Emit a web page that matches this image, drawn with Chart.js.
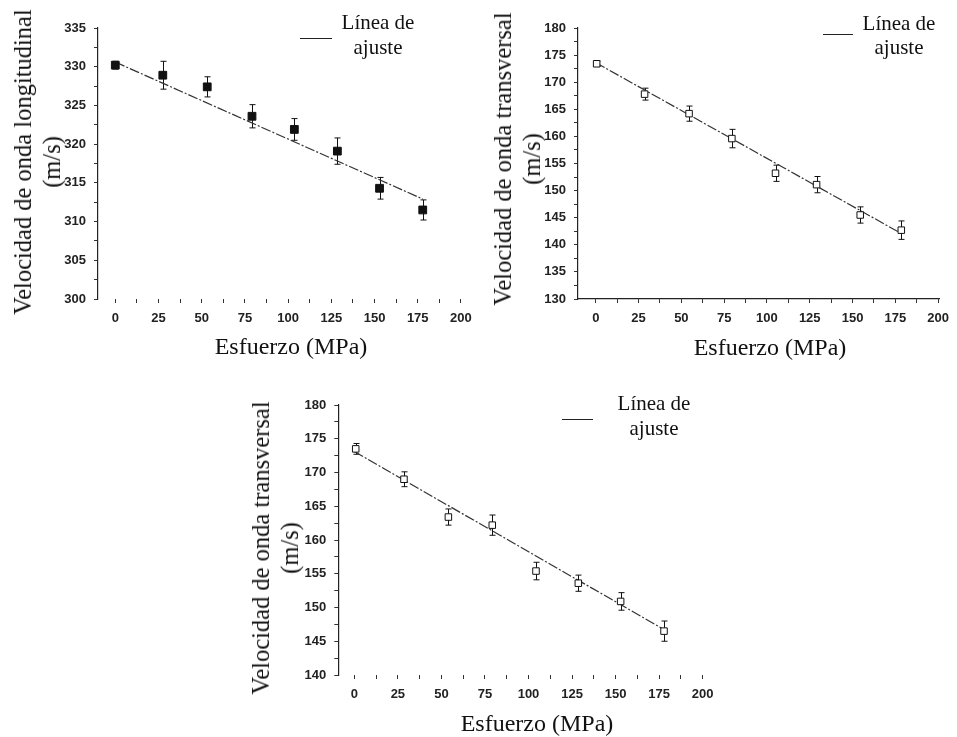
<!DOCTYPE html>
<html>
<head>
<meta charset="utf-8">
<script src="https://cdn.jsdelivr.net/npm/chart.js@4"></script>
<style>
  body { margin: 0; background: #fff; }
  #page { position: relative; width: 957px; height: 737px; overflow: hidden; }
  canvas { position: absolute; }
  .txt { position: absolute; font-family: 'Liberation Serif', serif; color: #111; white-space: nowrap; transform: translate(-50%, -50%); }
  .ytitle { text-align: center; line-height: 29px; font-size: 24.5px; transform: translate(-50%, -50%) rotate(-90deg); }
  .xtitle { font-size: 24px; }
  .leg { font-size: 21px; }
  .legline { position: absolute; height: 0; border-top: 1.5px solid #222; }
</style>
</head>
<body>
<div id="page">
  <canvas id="c1" width="480" height="370" style="left:0;top:0"></canvas>
  <canvas id="c2" width="477" height="370" style="left:480px;top:0"></canvas>
  <canvas id="c3" width="500" height="367" style="left:230px;top:370px"></canvas>

  <div class="txt ytitle" style="left:37px;top:162px">Velocidad de onda longitudinal<br>(m/s)</div>
  <div class="txt xtitle" style="left:291px;top:346px">Esfuerzo (MPa)</div>
  <div class="legline" style="left:300px;top:38px;width:32px"></div>
  <div class="txt leg" style="left:378px;top:22px">Línea de</div>
  <div class="txt leg" style="left:378px;top:47px">ajuste</div>

  <div class="txt ytitle" style="left:517px;top:159px">Velocidad de onda transversal<br>(m/s)</div>
  <div class="txt xtitle" style="left:770px;top:347px">Esfuerzo (MPa)</div>
  <div class="legline" style="left:823px;top:34px;width:30px"></div>
  <div class="txt leg" style="left:899px;top:23px">Línea de</div>
  <div class="txt leg" style="left:899px;top:47px">ajuste</div>

  <div class="txt ytitle" style="left:275px;top:548px">Velocidad de onda transversal<br>(m/s)</div>
  <div class="txt xtitle" style="left:537px;top:723px">Esfuerzo (MPa)</div>
  <div class="legline" style="left:562px;top:419px;width:31px"></div>
  <div class="txt leg" style="left:654px;top:403px">Línea de</div>
  <div class="txt leg" style="left:654px;top:428px">ajuste</div>
</div>

<script>
// x axis: stress (MPa)
const xTicks = [0, 25, 50, 75, 100, 125, 150, 175, 200];

// chart 1 - longitudinal wave
const stressLong = [0, 27.5, 53.2, 79.1, 103.6, 128.5, 152.9, 177.9];
const velLong = [330.2, 328.9, 327.4, 323.6, 321.9, 319.1, 314.3, 311.5];
const errLong = [0.5, 1.8, 1.3, 1.5, 1.4, 1.7, 1.4, 1.3];
const fitLongX = [0, 178];
const fitLongY = [330.6, 312.9];
const yTicksLong = [300, 305, 310, 315, 320, 325, 330, 335];

// chart 2 - transversal wave (upper right)
const stressTrans1 = [0.5, 28.5, 54.5, 79.5, 105, 129, 154.5, 178.5];
const velTrans1 = [173.4, 167.8, 164.2, 159.6, 153.2, 151.1, 145.5, 142.7];
const errTrans1 = [0.5, 1.1, 1.4, 1.7, 1.5, 1.5, 1.5, 1.7];
const fitTrans1X = [0, 179];
const fitTrans1Y = [173.6, 142.0];
const yTicksTrans1 = [130, 135, 140, 145, 150, 155, 160, 165, 170, 175, 180];

// chart 3 - transversal wave (bottom)
const stressTrans2 = [0.8, 28.5, 54, 79.2, 104.3, 128.6, 152.9, 177.8];
const velTrans2 = [173.5, 169.0, 163.4, 162.2, 155.4, 153.6, 150.9, 146.5];
const errTrans2 = [0.8, 1.1, 1.2, 1.5, 1.3, 1.2, 1.3, 1.5];
const fitTrans2X = [0, 178];
const fitTrans2Y = [173.1, 146.7];
const yTicksTrans2 = [140, 145, 150, 155, 160, 165, 170, 175, 180];

Chart.defaults.font.family = "'Liberation Sans', Arial, sans-serif";
Chart.defaults.color = '#222';

const errorBars = {
  id: 'errorBars',
  beforeDatasetsDraw(chart, args, opts) {
    const { ctx, scales: { x, y } } = chart;
    const pts = chart.data.datasets[0].data;
    ctx.save();
    ctx.strokeStyle = '#111';
    ctx.lineWidth = 1;
    pts.forEach((p, i) => {
      const e = opts.errors[i];
      const px = Math.round(x.getPixelForValue(p.x)) + 0.5;
      const top = y.getPixelForValue(p.y + e);
      const bot = y.getPixelForValue(p.y - e);
      ctx.beginPath();
      ctx.moveTo(px, top); ctx.lineTo(px, bot);
      ctx.moveTo(px - 3, top); ctx.lineTo(px + 3, top);
      ctx.moveTo(px - 3, bot); ctx.lineTo(px + 3, bot);
      ctx.stroke();
    });
    ctx.restore();
  }
};

// major + minor tick positions (minor ones stay unlabeled)
function withMinor(ticks) {
  const out = [];
  ticks.forEach((v, i) => {
    out.push({ value: v });
    if (i < ticks.length - 1) out.push({ value: (v + ticks[i + 1]) / 2, minor: true });
  });
  return out;
}

function makeChart(id, cfg) {
  const points = cfg.xs.map((x, i) => ({ x: x, y: cfg.ys[i] }));
  const fit = cfg.fitX.map((x, i) => ({ x: x, y: cfg.fitY[i] }));
  new Chart(document.getElementById(id), {
    type: 'scatter',
    data: {
      datasets: [
        {
          data: points,
          pointStyle: 'rect',
          pointRadius: cfg.filled ? 5.5 : 4.6,
          pointBackgroundColor: cfg.filled ? '#111' : '#fff',
          pointBorderColor: '#111',
          pointBorderWidth: 1,
          order: 1
        },
        {
          type: 'line',
          data: fit,
          showLine: true,
          borderColor: '#333',
          borderWidth: 1.2,
          borderDash: [10, 2, 2, 2],
          pointRadius: 0,
          order: 2
        }
      ]
    },
    options: {
      responsive: false,
      animation: false,
      layout: { padding: cfg.padding },
      plugins: {
        legend: { display: false },
        tooltip: { enabled: false },
        errorBars: { errors: cfg.errs }
      },
      scales: {
        x: {
          type: 'linear',
          min: cfg.xMin,
          max: cfg.xMax,
          afterFit: s => { s.height = 30; },
          afterBuildTicks: s => { s.ticks = withMinor(xTicks); },
          border: { display: cfg.xLine, color: '#222', width: 1.2 },
          grid: { drawOnChartArea: false, drawTicks: true, tickLength: 4, color: '#333' },
          ticks: {
            padding: 8,
            maxRotation: 0,
            autoSkip: false,
            font: { size: 13, weight: 'bold' },
            callback: v => xTicks.includes(v) ? String(v) : ''
          }
        },
        y: {
          type: 'linear',
          min: cfg.yTicks[0],
          max: cfg.yTicks[cfg.yTicks.length - 1],
          afterFit: s => { s.width = 40; },
          afterBuildTicks: s => { s.ticks = withMinor(cfg.yTicks); },
          border: { display: true, color: '#222', width: 1.2 },
          grid: { drawOnChartArea: false, drawTicks: true, tickLength: 4, color: '#333' },
          ticks: {
            padding: 8,
            autoSkip: false,
            font: { size: 13, weight: 'bold' },
            callback: v => cfg.yTicks.includes(v) ? String(v) : ''
          }
        }
      }
    },
    plugins: [errorBars]
  });
}

makeChart('c1', {
  xs: stressLong, ys: velLong, errs: errLong, fitX: fitLongX, fitY: fitLongY,
  yTicks: yTicksLong, filled: true, xLine: false,
  xMin: -10, xMax: 205,
  padding: { left: 58, right: 9, top: 28, bottom: 41 }
});

makeChart('c2', {
  xs: stressTrans1, ys: velTrans1, errs: errTrans1, fitX: fitTrans1X, fitY: fitTrans1Y,
  yTicks: yTicksTrans1, filled: false, xLine: true,
  xMin: -10.4, xMax: 201,
  padding: { left: 58, right: 13.6, top: 28, bottom: 41 }
});

makeChart('c3', {
  xs: stressTrans2, ys: velTrans2, errs: errTrans2, fitX: fitTrans2X, fitY: fitTrans2Y,
  yTicks: yTicksTrans2, filled: false, xLine: false,
  xMin: -9.2, xMax: 205,
  padding: { left: 68.3, right: 18.6, top: 35, bottom: 32 }
});
</script>
</body>
</html>
